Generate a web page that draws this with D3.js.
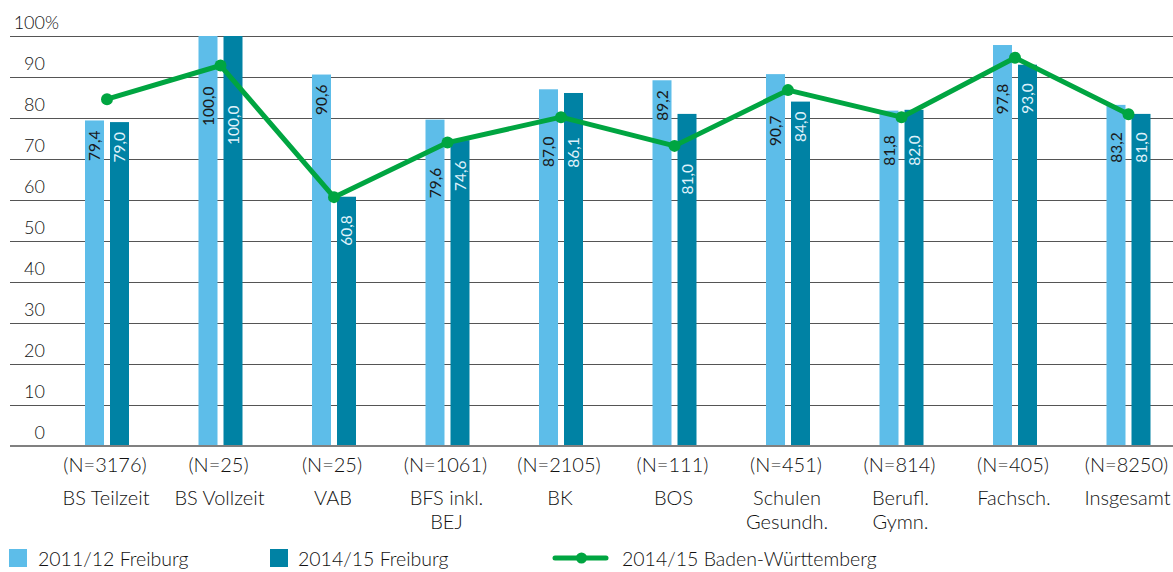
<!DOCTYPE html>
<html>
<head>
<meta charset="utf-8">
<script src="https://cdn.jsdelivr.net/npm/d3@7"></script>
<style>
  html, body { margin: 0; padding: 0; background: #fff; }
  svg { display: block; font-family: Lato, "Open Sans", sans-serif; font-weight: 300; }
</style>
</head>
<body>
<svg id="chart" width="1173" height="572"></svg>
<script>
const categories = ["BS Teilzeit", "BS Vollzeit", "VAB", "BFS inkl. BEJ", "BK", "BOS", "Schulen Gesundh.", "Berufl. Gymn.", "Fachsch.", "Insgesamt"];
const categoryLines = [["BS Teilzeit"], ["BS Vollzeit"], ["VAB"], ["BFS inkl.", "BEJ"], ["BK"], ["BOS"], ["Schulen", "Gesundh."], ["Berufl.", "Gymn."], ["Fachsch."], ["Insgesamt"]];
const nLabels = ["(N=3176)", "(N=25)", "(N=25)", "(N=1061)", "(N=2105)", "(N=111)", "(N=451)", "(N=814)", "(N=405)", "(N=8250)"];
const freiburg2011 = [79.4, 100.0, 90.6, 79.6, 87.0, 89.2, 90.7, 81.8, 97.8, 83.2];
const freiburg2014 = [79.0, 100.0, 60.8, 74.6, 86.1, 81.0, 84.0, 82.0, 93.0, 81.0];
const bw2014 = [84.6, 92.8, 60.7, 74.0, 80.2, 73.2, 86.8, 80.2, 94.7, 80.9];
const yTicks = [0, 10, 20, 30, 40, 50, 60, 70, 80, 90, 100];
const legendLabels = ["2011/12 Freiburg", "2014/15 Freiburg", "2014/15 Baden-Württemberg"];

const C_LIGHT = "#5dbde9", C_DARK = "#0082a4", C_GREEN = "#00a541";
const svg = d3.select("#chart");
const x = d3.scalePoint().domain(categories).range([107, 1128.5]);
const y = d3.scaleLinear().domain([0, 100]).range([446, 36]);
const barW = 19;
const fmt = v => d3.format(".1f")(v).replace(".", ",");

// gridlines
svg.append("g").selectAll("line").data(yTicks.filter(t => t > 0)).join("line")
  .attr("x1", 10).attr("x2", 1173)
  .attr("y1", d => Math.round(y(d)) + 0.5).attr("y2", d => Math.round(y(d)) + 0.5)
  .attr("stroke", "#555").attr("stroke-width", 1.2);

// y tick labels
const yl = svg.append("g").attr("font-size", 18).attr("fill", "#111");
yl.selectAll("text").data(yTicks).join("text")
  .attr("x", 45).attr("y", d => y(d) - 7)
  .attr("text-anchor", "end").text(d => d);
yl.append("text").attr("x", 45).attr("y", y(100) - 7).text("%");

// bars
const groups = categories.map((c, i) => ({c, i}));
svg.append("g").selectAll("rect").data(groups).join("rect")
  .attr("x", d => x(d.c) - 22).attr("width", barW)
  .attr("y", d => y(freiburg2011[d.i])).attr("height", d => y(0) - y(freiburg2011[d.i]))
  .attr("fill", C_LIGHT);
svg.append("g").selectAll("rect").data(groups).join("rect")
  .attr("x", d => x(d.c) + 3).attr("width", barW)
  .attr("y", d => y(freiburg2014[d.i])).attr("height", d => y(0) - y(freiburg2014[d.i]))
  .attr("fill", C_DARK);

// baseline
svg.append("line").attr("x1", 10).attr("x2", 1173).attr("y1", y(0)).attr("y2", y(0))
  .attr("stroke", "#808080").attr("stroke-width", 2.2);

// line series
const pts = categories.map((c, i) => [x(c), y(bw2014[i])]);
const R = 6, SW = 5;
function lineRange(x0, x1) {
  let lo = Infinity, hi = -Infinity;
  for (let k = 0; k < pts.length - 1; k++) {
    const [ax, ay] = pts[k], [bx, by] = pts[k + 1];
    const s0 = Math.max(x0, ax), s1 = Math.min(x1, bx);
    if (s0 <= s1) {
      [s0, s1].forEach(xx => {
        const yy = ay + (by - ay) * (xx - ax) / (bx - ax);
        lo = Math.min(lo, yy - SW / 2); hi = Math.max(hi, yy + SW / 2);
      });
    }
  }
  pts.forEach(([px, py]) => {
    if (px + R >= x0 && px - R <= x1) { lo = Math.min(lo, py - R); hi = Math.max(hi, py + R); }
  });
  return [lo, hi];
}
function labelStart(bx, v) {
  let start = y(v) + 10;
  const [lo, hi] = lineRange(bx, bx + barW);
  if (hi > start - 8 && lo < start + 40) start = hi + 12;
  return start;
}

// bar labels
const lab = svg.append("g").attr("font-size", 15.5).attr("font-weight", 400);
groups.forEach(d => {
  const bx1 = x(d.c) - 22, bx2 = x(d.c) + 3;
  [[bx1, freiburg2011[d.i], "#1a1a1a"], [bx2, freiburg2014[d.i], "#dff1fa"]].forEach(([bx, v, col]) => {
    const s = labelStart(bx, v);
    lab.append("text")
      .attr("transform", `translate(${bx + barW / 2 + 5.5},${s}) rotate(-90)`)
      .attr("text-anchor", "end").attr("fill", col).text(fmt(v));
  });
});

svg.append("path").datum(pts)
  .attr("d", d3.line()).attr("fill", "none")
  .attr("stroke", C_GREEN).attr("stroke-width", SW).attr("stroke-linejoin", "round");
svg.append("g").selectAll("circle").data(pts).join("circle")
  .attr("cx", d => d[0]).attr("cy", d => d[1]).attr("r", R).attr("fill", C_GREEN);

// category labels
const cl = svg.append("g").attr("font-size", 20).attr("fill", "#111").attr("text-anchor", "middle");
groups.forEach(d => {
  cl.append("text").attr("x", x(d.c) - 2).attr("y", 472).text(nLabels[d.i]);
  categoryLines[d.i].forEach((t, j) => {
    cl.append("text").attr("x", x(d.c) - 1).attr("y", 505 + j * 24).text(t);
  });
});

// legend
const lg = svg.append("g").attr("font-size", 19.5).attr("fill", "#111");
lg.append("rect").attr("x", 9).attr("y", 549).attr("width", 18).attr("height", 18).attr("fill", C_LIGHT);
lg.append("text").attr("x", 38).attr("y", 566).text(legendLabels[0]);
lg.append("rect").attr("x", 270).attr("y", 549).attr("width", 18).attr("height", 18).attr("fill", C_DARK);
lg.append("text").attr("x", 298).attr("y", 566).text(legendLabels[1]);
lg.append("line").attr("x1", 555).attr("x2", 606).attr("y1", 558).attr("y2", 558)
  .attr("stroke", C_GREEN).attr("stroke-width", 5).attr("stroke-linecap", "round");
lg.append("circle").attr("cx", 581.5).attr("cy", 558).attr("r", 5.5).attr("fill", C_GREEN);
lg.append("text").attr("x", 622).attr("y", 566).text(legendLabels[2]);
</script>
</body>
</html>
